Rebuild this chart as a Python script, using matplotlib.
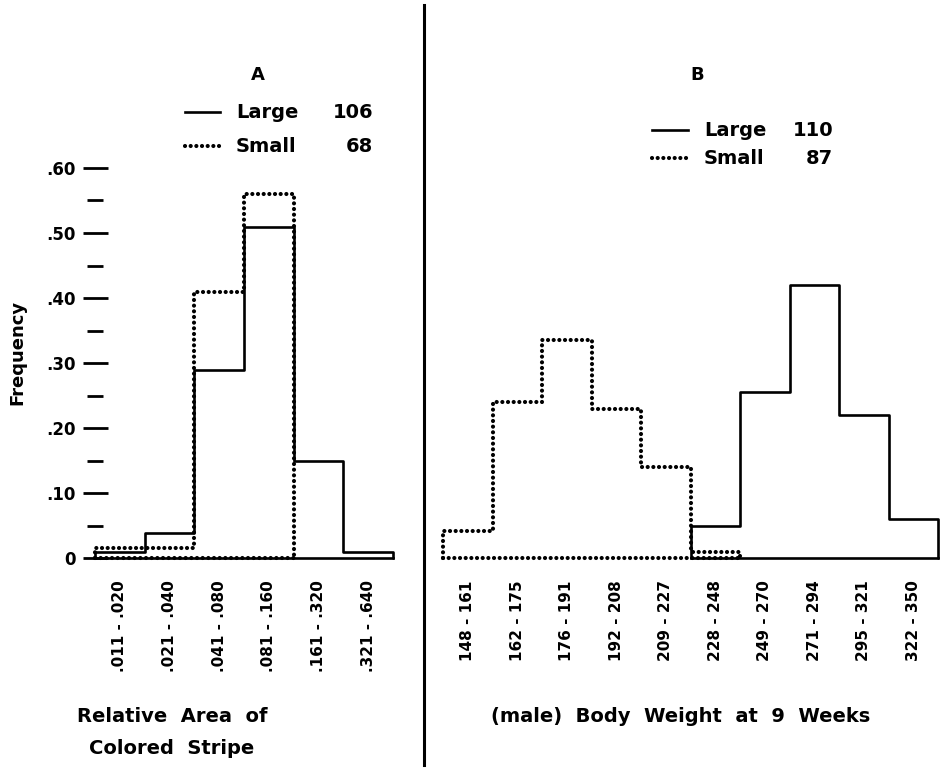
import numpy as np
import matplotlib.pyplot as plt

plt.rcParams['font.family'] = 'DejaVu Sans'
plt.rcParams['font.weight'] = 'bold'

# Panel A: relative area of colored stripe
a_labels = [".011 - .020", ".021 - .040", ".041 - .080",
            ".081 - .160", ".161 - .320", ".321 - .640"]
a_large = [0.009, 0.038, 0.29, 0.51, 0.15, 0.009]
a_small = [0.015, 0.015, 0.41, 0.56, 0.0, 0.0]
a_n = {"Large": 106, "Small": 68}

# Panel B: male body weight at 9 weeks
b_labels = ["148 - 161", "162 - 175", "176 - 191", "192 - 208", "209 - 227",
            "228 - 248", "249 - 270", "271 - 294", "295 - 321", "322 - 350"]
b_large = [0, 0, 0, 0, 0, 0.05, 0.255, 0.42, 0.22, 0.06]
b_small = [0.042, 0.24, 0.335, 0.23, 0.14, 0.01, 0, 0, 0, 0]
b_n = {"Large": 110, "Small": 87}

W, H = 940, 770
fig = plt.figure(figsize=(W / 100, H / 100), dpi=100)


def box(x0, y0, x1, y1):
    # pixel box -> figure fraction rect
    return [x0 / W, 1 - y1 / H, (x1 - x0) / W, (y1 - y0) / H]


solid = dict(color='black', lw=1.9)
dotted = dict(color='black', lw=3.0, linestyle=(0, (0.01, 1.35)))


def draw_hist(ax, vals, style):
    vals = np.asarray(vals, dtype=float)
    idx = np.nonzero(vals)[0]
    lo, hi = idx.min(), idx.max() + 1
    edges = np.arange(lo, hi + 1)
    ax.stairs(vals[lo:hi], edges, baseline=0, capstyle='round',
              joinstyle='round', clip_on=False, **style)
    ax.plot([lo, hi], [0, 0], dash_capstyle='round', clip_on=False, **style)


axA = fig.add_axes(box(95, 168, 393, 558))
axB = fig.add_axes(box(443, 168, 938, 558))

for ax, large, small, labels in [(axA, a_large, a_small, a_labels),
                                 (axB, b_large, b_small, b_labels)]:
    draw_hist(ax, large, solid)
    draw_hist(ax, small, dotted)
    n = len(labels)
    ax.set_xlim(0, n)
    ax.set_ylim(0, 0.6)
    for s in ax.spines.values():
        s.set_visible(False)
    ax.set_xticks(np.arange(n) + 0.5)
    ax.set_xticklabels(labels, rotation=90, fontsize=11)
    ax.tick_params(axis='x', length=0, pad=16)

axA.set_yticks(np.arange(0, 0.61, 0.1))
axA.set_yticklabels(["0", ".10", ".20", ".30", ".40", ".50", ".60"], fontsize=12)
axA.set_yticks(np.arange(0.05, 0.6, 0.1), minor=True)
axA.tick_params(axis='y', which='major', direction='inout', length=18, width=2, pad=5)
axA.tick_params(axis='y', which='minor', direction='inout', length=12, width=2)
axB.set_yticks([])

fig.text(17 / W, 1 - 352 / H, "Frequency", fontsize=13, rotation=90,
         ha='center', va='center')

# legends (line sample, name, count)
for ax, n, x_line, y_rows, x_txt, x_num, title, x_title in [
        (axA, a_n, (185, 220), (112, 146), 236, 373, "A", 258),
        (axB, b_n, (652, 688), (130, 158), 704, 833, "B", 697)]:
    fig.text(x_title / W, 1 - 75 / H, title, fontsize=13, ha='center', va='center')
    for (name, cnt), y, st in zip(n.items(), y_rows, (solid, dotted)):
        fig.add_artist(plt.Line2D([x_line[0] / W, x_line[1] / W],
                                  [1 - y / H, 1 - y / H], dash_capstyle='round', **st))
        fig.text(x_txt / W, 1 - y / H, name, fontsize=14, ha='left', va='center')
        fig.text(x_num / W, 1 - y / H, str(cnt), fontsize=14, ha='right', va='center')

fig.text(172 / W, 1 - 716 / H, "Relative  Area  of", fontsize=14, ha='center', va='center')
fig.text(172 / W, 1 - 748 / H, "Colored  Stripe", fontsize=14, ha='center', va='center')
fig.text(681 / W, 1 - 716 / H, "(male)  Body  Weight  at  9  Weeks", fontsize=14,
         ha='center', va='center')

# divider between panels
fig.add_artist(plt.Line2D([424 / W, 424 / W], [1 - 5 / H, 1 - 765 / H],
                          color='black', lw=2.2))

fig.savefig("out.png", dpi=100)
